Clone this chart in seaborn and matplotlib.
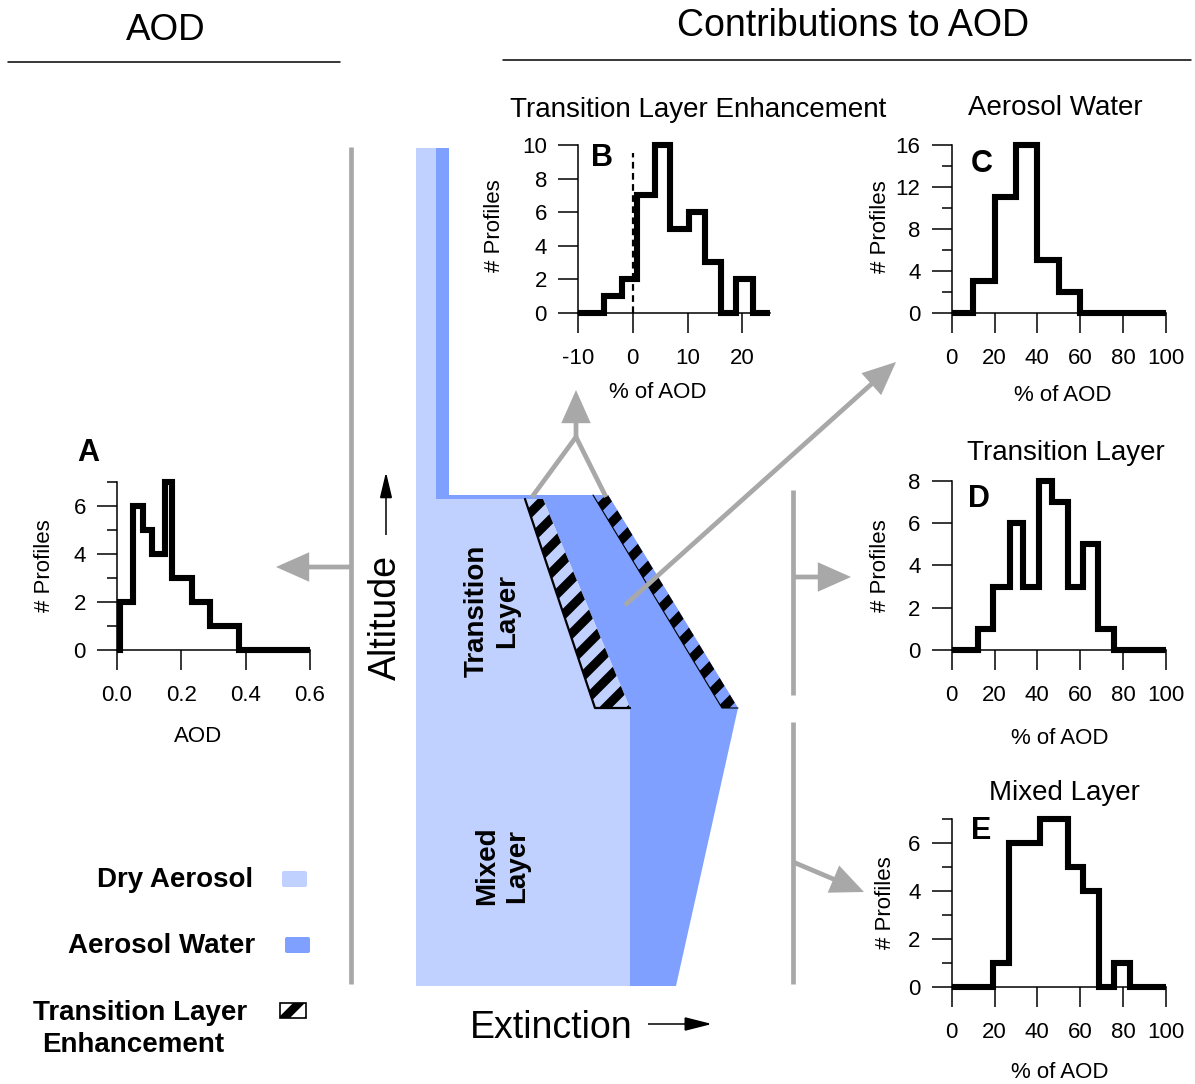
import numpy as np
import pandas as pd
import matplotlib
matplotlib.use("Agg")
import matplotlib.pyplot as plt
import seaborn as sns
from matplotlib.patches import Polygon, FancyArrowPatch, FancyBboxPatch, ArrowStyle
from matplotlib.lines import Line2D

# ---------------- data ----------------
# A: AOD histogram
aod_edges = [0.0, 0.01, 0.05, 0.08, 0.11, 0.148, 0.170, 0.232, 0.29, 0.38, 0.6]
aod_counts = [0, 2, 6, 5, 4, 7, 3, 2, 1, 0]
# B: Transition layer enhancement (% of AOD)
tle_edges = [-10, -5.3, -2.0, 0.7, 4.1, 6.8, 10.2, 13.2, 16.1, 18.9, 21.9, 25]
tle_counts = [0, 1, 2, 7, 10, 5, 6, 3, 0, 2, 0]
# C: Aerosol water (% of AOD)
water_edges = [0, 10, 20, 30, 40, 50, 60, 100]
water_counts = [0, 3, 11, 16, 5, 2, 0]
# D: Transition layer (% of AOD)
tl_edges = [0, 12.5, 19.5, 27.3, 33.5, 40.8, 47, 54.5, 61.5, 68.5, 76, 100]
tl_counts = [0, 1, 3, 6, 3, 8, 7, 3, 5, 1, 0]
# E: Mixed layer (% of AOD)
ml_edges = [0, 19.5, 26.8, 34, 41.3, 48.5, 54.2, 61.5, 68.8, 76, 83.3, 100]
ml_counts = [0, 1, 6, 6, 7, 7, 5, 4, 0, 1, 0]

# tick labels
aod_ticks = [0.0, 0.2, 0.4, 0.6]
aod_ticklabels = ["0.0", "0.2", "0.4", "0.6"]
tle_ticks = [-10, 0, 10, 20]
pct_ticks = [0, 20, 40, 60, 80, 100]

sns.set_style("ticks")
plt.rcParams['font.family'] = ['Liberation Sans', 'DejaVu Sans']
plt.rcParams['text.color'] = 'black'
plt.rcParams['axes.labelcolor'] = 'black'
plt.rcParams['xtick.color'] = 'black'
plt.rcParams['ytick.color'] = 'black'

LIGHT = '#C0D0FF'
MED = '#80A0FF'
GRAY = '#A8A8A8'

W, H = 1195, 1084
fig = plt.figure(figsize=(W / 100, H / 100), dpi=100)
bg = fig.add_axes([0, 0, 1, 1])
bg.set_xlim(0, W)
bg.set_ylim(H, 0)
bg.axis('off')


def px_axes(rect):
    x0, x1, yt, yb = rect
    return fig.add_axes([x0 / W, 1 - yb / H, (x1 - x0) / W, (yb - yt) / H])


def draw_hist(rect, edges, counts, xlim, ylim, xticks, xticklabels, yticks, yminor,
              xlab, xlab_pos, ylab, ylab_pos):
    ax = px_axes(rect)
    e = [float(v) for v in edges]
    mids = [(a + b) / 2 for a, b in zip(e[:-1], e[1:])]
    df = pd.DataFrame({"x": mids, "w": [float(c) for c in counts]})
    sns.histplot(data=df, x="x", weights="w", bins=e, element="step", fill=False,
                 color="black", linewidth=4.4, ax=ax)
    for ln in ax.lines:
        ln.set_clip_on(False)
        ln.set_solid_joinstyle('miter')
        ln.set_solid_capstyle('butt')
        ln.set_zorder(5)
    ax.set_xlim(xlim)
    ax.set_ylim(ylim)
    ax.set_xticks(xticks)
    ax.set_xticklabels(xticklabels)
    ax.set_yticks(yticks)
    ax.set_yticks(yminor, minor=True)
    for s in ['top', 'right']:
        ax.spines[s].set_visible(False)
    for s in ['left', 'bottom']:
        ax.spines[s].set_linewidth(1.1)
        ax.spines[s].set_color('black')
    ax.tick_params(which='major', direction='out', length=14.4, width=1.1,
                   labelsize=16, colors='black')
    ax.tick_params(which='minor', direction='out', length=7.2, width=1.1, colors='black')
    ax.tick_params(axis='x', which='both', pad=11)
    ax.tick_params(axis='y', which='both', pad=8)
    ax.patch.set_alpha(0)
    x0, x1, yt, yb = rect
    ax.set_xlabel(xlab, fontsize=16, va='center', ha='center', color='black')
    ax.xaxis.set_label_coords((xlab_pos[0] - x0) / (x1 - x0), (yb - xlab_pos[1]) / (yb - yt))
    ax.set_ylabel(ylab, fontsize=16, va='center', ha='center', color='black')
    ax.yaxis.set_label_coords((ylab_pos[0] - x0) / (x1 - x0), (yb - ylab_pos[1]) / (yb - yt))
    return ax


# ---------------- schematic ----------------
light_poly = Polygon([(416, 148), (436, 148), (436, 499), (525, 499), (595, 708),
                      (630, 708), (630, 986), (416, 986)], closed=True,
                     facecolor=LIGHT, edgecolor='none', zorder=1)
med_poly = Polygon([(436, 148), (449, 148), (449, 495), (608, 495), (738, 708),
                    (676, 986), (630, 986), (630, 708), (543, 499), (436, 499)], closed=True,
                   facecolor=MED, edgecolor='none', zorder=1)
bg.add_patch(light_poly)
bg.add_patch(med_poly)

band_left = Polygon([(525, 499), (543, 499), (630, 708), (595, 708)], closed=True,
                    facecolor=LIGHT, edgecolor='none', zorder=2)
band_right = Polygon([(593, 495), (608, 495), (738, 708), (722, 708)], closed=True,
                     facecolor=MED, edgecolor='none', zorder=2)
bg.add_patch(band_left)
bg.add_patch(band_right)


def stripes(patch, period=27, lw=6.5, phase=0):
    for c in np.arange(800 + phase, 2600, period):
        ln = Line2D([0, 1400], [c, c - 1400], color='black', lw=lw,
                    solid_capstyle='butt', zorder=3)
        bg.add_line(ln)
        ln.set_clip_path(patch)


stripes(band_left, period=27, lw=6.5)
stripes(band_right, period=27, lw=6.5, phase=10)
bg.plot([525, 595, 630], [499, 708, 708], color='black', lw=1.6, zorder=4)
bg.plot([593, 722, 738], [495, 708, 708], color='black', lw=0.8, zorder=4)

# text in schematic
bg.text(492, 611, "Transition\nLayer", rotation=90, ha='center', va='center',
        fontsize=20, fontweight='bold', multialignment='center', zorder=6)
bg.text(502, 866, "Mixed\nLayer", rotation=90, ha='center', va='center',
        fontsize=20, fontweight='bold', multialignment='center', zorder=6)
bg.text(386, 617, "Altitude", rotation=90, ha='center', va='center', fontsize=27)
bg.text(551, 1028, "Extinction", ha='center', va='center', fontsize=27)


def arrow(p0, p1, color, lw, hl, hw, zorder=5):
    a = FancyArrowPatch(p0, p1, arrowstyle=ArrowStyle('-|>', head_length=hl, head_width=hw),
                        mutation_scale=1, color=color, lw=lw, shrinkA=0, shrinkB=0,
                        zorder=zorder, joinstyle='miter', capstyle='butt')
    bg.add_patch(a)


# black axis arrows
arrow((386, 535), (386, 472), 'black', 1.1, 16, 3.8)
arrow((648, 1024), (712, 1024), 'black', 1.1, 17, 4.3)

# gray lines and arrows
for xs, ys in [([351, 351], [147, 984]), ([793, 793], [490, 695]), ([793, 793], [722, 984]),
               ([532, 576], [497, 437]), ([606, 576], [497, 437])]:
    bg.plot(xs, ys, color=GRAY, lw=3.4, solid_capstyle='butt', zorder=5)
arrow((351, 567), (276, 567), GRAY, 3.4, 18, 8)
arrow((793, 577), (851, 577), GRAY, 3.4, 18, 8)
arrow((793, 862), (864, 892), GRAY, 3.4, 18, 8)
arrow((576, 437), (576, 390), GRAY, 3.4, 18, 8)
arrow((625, 605), (896, 362), GRAY, 3.4, 18, 8)

# headers
bg.text(166, 31, "AOD", ha='center', va='center', fontsize=26.5)
bg.text(853, 26, "Contributions to AOD", ha='center', va='center', fontsize=27)
bg.plot([8, 340], [62, 62], color='black', lw=1.1)
bg.plot([503, 1191], [60, 60], color='black', lw=1.1)

# legend
bg.add_patch(FancyBboxPatch((282, 871), 25, 16, boxstyle='round,pad=0,rounding_size=2',
                            facecolor=LIGHT, edgecolor='none'))
bg.add_patch(FancyBboxPatch((285, 937), 25, 16, boxstyle='round,pad=0,rounding_size=2',
                            facecolor=MED, edgecolor='none'))
leg_h = FancyBboxPatch((280, 1003), 26, 15, boxstyle='square,pad=0',
                       facecolor='white', edgecolor='black', lw=1.2, zorder=2)
bg.add_patch(leg_h)
stripes(leg_h, period=26, lw=6, phase=8)
bg.text(253, 880, "Dry Aerosol", ha='right', va='center', fontsize=20, fontweight='bold')
bg.text(255, 946, "Aerosol Water", ha='right', va='center', fontsize=20, fontweight='bold')
bg.text(33, 1013, "Transition Layer", ha='left', va='center', fontsize=20, fontweight='bold')
bg.text(42, 1045, "Enhancement", ha='left', va='center', fontsize=20, fontweight='bold')

# ---------------- histograms ----------------
draw_hist((117, 310, 482, 650), aod_edges, aod_counts, (0, 0.6), (0, 7),
          aod_ticks, aod_ticklabels, [0, 2, 4, 6], [1, 3, 5, 7],
          "AOD", (198, 737), "# Profiles", (45, 566))
axB = draw_hist((578, 769.7, 145, 312.7), tle_edges, tle_counts, (-10, 25), (0, 10),
                tle_ticks, [str(t) for t in tle_ticks], [0, 2, 4, 6, 8, 10], [],
                "% of AOD", (658, 392), "# Profiles", (495, 226))
axB.plot([0, 0], [0, 9.5], color='black', lw=1.6, ls=(0, (3, 2)), zorder=4)
draw_hist((951.7, 1165.7, 145, 312.7), water_edges, water_counts, (0, 100), (0, 16),
          pct_ticks, [str(t) for t in pct_ticks], [0, 4, 8, 12, 16], [2, 6, 10, 14],
          "% of AOD", (1063, 395), "# Profiles", (880, 227))
draw_hist((951.7, 1165.7, 480.7, 650), tl_edges, tl_counts, (0, 100), (0, 8),
          pct_ticks, [str(t) for t in pct_ticks], [0, 2, 4, 6, 8], [],
          "% of AOD", (1060, 738), "# Profiles", (880, 566))
draw_hist((951.7, 1165.7, 819, 986.7), ml_edges, ml_counts, (0, 100), (0, 7),
          pct_ticks, [str(t) for t in pct_ticks], [0, 2, 4, 6], [1, 3, 5, 7],
          "% of AOD", (1060, 1073), "# Profiles", (885, 903))

# titles and panel letters
bg.text(698, 110, "Transition Layer Enhancement", ha='center', va='center', fontsize=20)
bg.text(1055, 108, "Aerosol Water", ha='center', va='center', fontsize=20)
bg.text(1066, 453, "Transition Layer", ha='center', va='center', fontsize=20)
bg.text(1064, 793, "Mixed Layer", ha='center', va='center', fontsize=20)
for lab, (x, y) in {"A": (88, 453), "B": (602, 158), "C": (982, 164),
                    "D": (979, 499), "E": (981, 831)}.items():
    bg.text(x, y, lab, ha='center', va='center', fontsize=22, fontweight='bold')

fig.savefig("out.png", dpi=100)
